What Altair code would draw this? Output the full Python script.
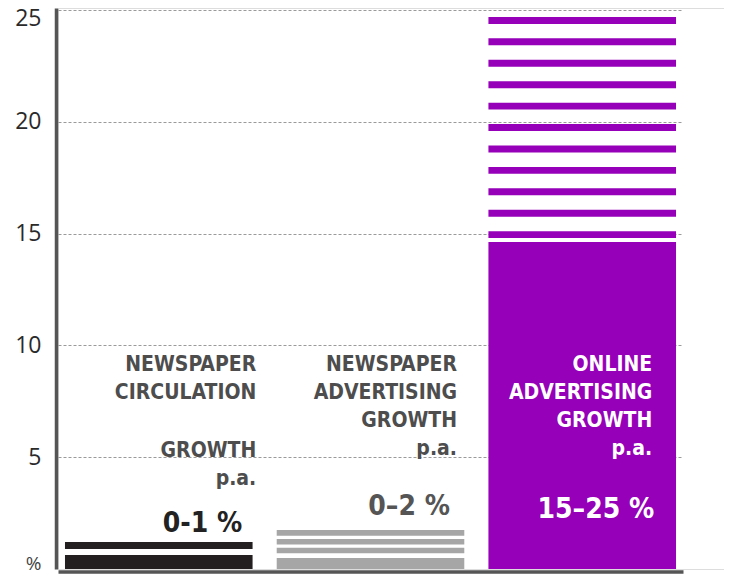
import altair as alt
import pandas as pd

# ---- data ----
categories = ["NEWSPAPER CIRCULATION", "NEWSPAPER ADVERTISING", "ONLINE ADVERTISING"]
solid_top = [0.63, 0.49, 14.62]      # top of the solid part of each bar
stripe_low = [0.89, 0.70, 14.80]     # bottom of the lowest stripe
stripe_high = [1.21, 1.74, 24.69]    # top of the highest stripe
stripe_count = [1, 3, 11]
# text blocks per bar: (lines, baseline value of first line)
title_blocks = [
    [(["NEWSPAPER", "CIRCULATION"], 8.85), (["GROWTH", "p.a."], 5.02)],
    [(["NEWSPAPER", "ADVERTISING\u00a0", "GROWTH", "p.a."], 8.85)],
    [(["ONLINE\u00a0", "ADVERTISING", "GROWTH", "p.a."], 8.85)],
]
range_labels = ["0-1 %", "0\u20132 %", "15\u201325 %"]
range_y = [1.67, 2.41, 2.28]
y_ticks = [0, 5, 10, 15, 20, 25]

# ---- styles ----
bar_colors = ["#231f20", "#a6a6a6", "#9500b8"]
stripe_thickness = [0.31, 0.25, 0.31]
title_colors = ["#4d4d4d", "#4d4d4d", "#ffffff"]
range_colors = ["#222222", "#555555", "#ffffff"]
title_dx = [97.5, 86.5, 70]
range_dx = [83.5, 79.5, 72]
TITLE_FONT = "DejaVu Sans Condensed"
AXIS_FONT = "Open Sans"

rows = []
for i, c in enumerate(categories):
    rows.append({"cat": c, "lo": 0.0, "hi": solid_top[i]})
    n = stripe_count[i]
    t = stripe_thickness[i]
    if n == 1:
        tops = [stripe_high[i]]
    else:
        step = (stripe_high[i] - (stripe_low[i] + t)) / (n - 1)
        tops = [stripe_high[i] - k * step for k in range(n)]
    for top in tops:
        rows.append({"cat": c, "lo": top - t, "hi": top})
bars_df = pd.DataFrame(rows)

x_enc = alt.X(
    "cat:N",
    sort=categories,
    scale=alt.Scale(range=[0, 625], paddingInner=0.114, paddingOuter=0.033),
    axis=alt.Axis(
        title=None, labels=False, ticks=False, grid=False,
        domainColor="#555555", domainWidth=3.5, offset=2.5,
    ),
)
y_scale = alt.Scale(domain=[0, 25.09], nice=False, zero=True)
y_axis = alt.Axis(
    title=None,
    values=y_ticks,
    ticks=False,
    labelExpr="datum.value == 0 ? '%' : datum.label",
    labelFont=AXIS_FONT,
    labelFontSize={"condition": {"test": "datum.value == 0", "value": 19}, "value": 23},
    labelColor={"condition": {"test": "datum.value == 0", "value": "#444444"}, "value": "#2a2a2a"},
    labelBaseline={"condition": {"test": "datum.value == 0", "value": "alphabetic"}, "value": "middle"},
    labelOffset={"condition": {"test": "datum.value == 25", "value": 8}, "value": 0},
    labelPadding=15,
    domainColor="#555555",
    domainWidth=3.5,
    offset=2,
    grid=True,
    gridColor="#9a9a9a",
    gridDash=[3, 2],
    gridWidth=1,
    gridOpacity={"condition": {"test": "datum.value == 0", "value": 0}, "value": 1},
)

bars = alt.Chart(bars_df).mark_bar().encode(
    x=x_enc,
    y=alt.Y("lo:Q", scale=y_scale, axis=y_axis),
    y2="hi:Q",
    color=alt.Color("cat:N", scale=alt.Scale(domain=categories, range=bar_colors), legend=None),
)

layers = [bars]
for i, c in enumerate(categories):
    for lines, yv in title_blocks[i]:
        tdf = pd.DataFrame({"cat": [c], "y": [yv], "lines": [lines]})
        layers.append(
            alt.Chart(tdf).mark_text(
                align="right", baseline="alphabetic", dx=title_dx[i], lineHeight=28,
                font=TITLE_FONT, fontSize=21, fontWeight="bold", color=title_colors[i],
            ).encode(x=x_enc, y=alt.Y("y:Q", scale=y_scale), text="lines:N")
        )
    rdf = pd.DataFrame({"cat": [c], "y": [range_y[i]], "label": [range_labels[i]]})
    layers.append(
        alt.Chart(rdf).mark_text(
            align="right", baseline="alphabetic", dx=range_dx[i],
            font=TITLE_FONT, fontSize=28, fontWeight="bold", color=range_colors[i],
        ).encode(x=x_enc, y=alt.Y("y:Q", scale=y_scale), text="label:N")
    )

chart = alt.layer(*layers).properties(
    width=666,
    height=561,
    autosize=alt.AutoSizeParams(type="none"),
    padding={"left": 50, "top": 0, "right": 0, "bottom": 8},
).configure_view(stroke=None).configure(background="#ffffff")

chart.save("out.html", embed_options={"renderer": "svg", "actions": False})
